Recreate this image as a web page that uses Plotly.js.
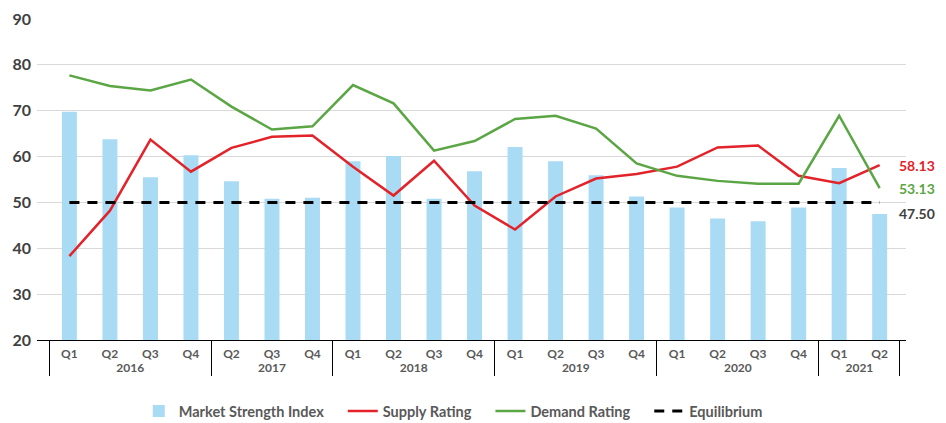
<!DOCTYPE html>
<html>
<head>
<meta charset="utf-8">
<script src="https://cdn.plot.ly/plotly-3.0.1.min.js"></script>
<style>html,body{margin:0;padding:0;background:#fff;}#chart{width:946px;height:423px;}</style>
</head>
<body>
<div id="chart"></div>
<script>
const years = ["2016","2016","2016","2016","2017","2017","2017","2018","2018","2018","2018","2019","2019","2019","2019","2020","2020","2020","2020","2021","2021"];
const quarters = ["Q1","Q2","Q3","Q4","Q2","Q3","Q4","Q1","Q2","Q3","Q4","Q1","Q2","Q3","Q4","Q1","Q2","Q3","Q4","Q1","Q2"];
const marketStrength = [69.8,63.8,55.5,60.3,54.6,50.8,51.0,59.0,60.1,50.8,56.8,62.1,59.0,55.9,51.3,48.9,46.5,45.9,48.9,57.5,47.5];
const supplyRating = [38.3,48.2,63.7,56.7,61.9,64.3,64.6,57.8,51.5,59.1,49.3,44.1,51.3,55.2,56.2,57.8,62.0,62.4,55.8,54.2,58.13];
const demandRating = [77.7,75.4,74.4,76.8,70.9,65.9,66.6,75.6,71.6,61.3,63.4,68.2,68.9,66.1,58.5,55.8,54.7,54.1,54.1,68.9,53.13];
const equilibrium = [50,50,50,50,50,50,50,50,50,50,50,50,50,50,50,50,50,50,50,50,50];
const seriesNames = ["Market Strength Index","Supply Rating","Demand Rating","Equilibrium"];

const x = [years, quarters];
const FONT = "Lato, 'Open Sans', sans-serif";
const colBar = "#A9DCF4", colRed = "#E3222A", colGreen = "#5BA644", colGray = "#404040";
const pad = "\u00a0\u00a0\u00a0\u00a0";

const traces = [
  {type:"bar", name:seriesNames[0] + pad, x:x, y:marketStrength, marker:{color:colBar}, hoverinfo:"skip"},
  {type:"scatter", mode:"lines", name:seriesNames[1] + pad, x:x, y:supplyRating, line:{color:colRed, width:2.5}, hoverinfo:"skip"},
  {type:"scatter", mode:"lines", name:seriesNames[2] + pad, x:x, y:demandRating, line:{color:colGreen, width:2.5}, hoverinfo:"skip"},
  {type:"scatter", mode:"lines", name:seriesNames[3], x:x, y:equilibrium, line:{color:"#000", width:3, dash:"10px,8px"}, hoverinfo:"skip"}
];

const xr = [-0.8, quarters.length - 0.35];
const last = quarters.length - 1;
const px = (last - xr[0]) / (xr[1] - xr[0]);
const endLabels = [
  {v: supplyRating[last], c: colRed},
  {v: demandRating[last], c: colGreen},
  {v: marketStrength[last], c: colGray}
];

const layout = {
  width:946, height:423,
  margin:{l:37, r:40, t:19, b:83, autoexpand:false},
  paper_bgcolor:"#fff", plot_bgcolor:"#fff",
  bargap:0.63,
  showlegend:true,
  legend:{orientation:"h", x:0.479, xanchor:"center", yref:"container", y:0.028, yanchor:"middle",
          font:{family:FONT, size:14.5, color:"#595959", weight:"bold"}},
  xaxis:{type:"multicategory", range:xr, showgrid:false, zeroline:false,
         showline:true, linecolor:"#000", linewidth:1, ticks:"", ticklabelstandoff:3,
         tickfont:{family:FONT, size:12, color:"#595959", weight:"bold"},
         showdividers:true, dividercolor:"#000", dividerwidth:1},
  yaxis:{range:[20,90], dtick:10, showgrid:true, gridcolor:"#d9d9d9", gridwidth:1,
         zeroline:false, showline:false, ticks:"", ticklabelstandoff:5,
         tickfont:{family:FONT, size:16, color:colGray, weight:"bold"}},
  annotations: endLabels.map(o => ({
    xref:"paper", yref:"y", x:px, y:o.v, xanchor:"left", yanchor:"middle", xshift:17,
    text:o.v.toFixed(2), showarrow:false,
    font:{family:FONT, size:14, color:o.c, weight:"bold"}
  }))
};

Plotly.newPlot("chart", traces, layout, {staticPlot:true, displayModeBar:false});
</script>
</body>
</html>
